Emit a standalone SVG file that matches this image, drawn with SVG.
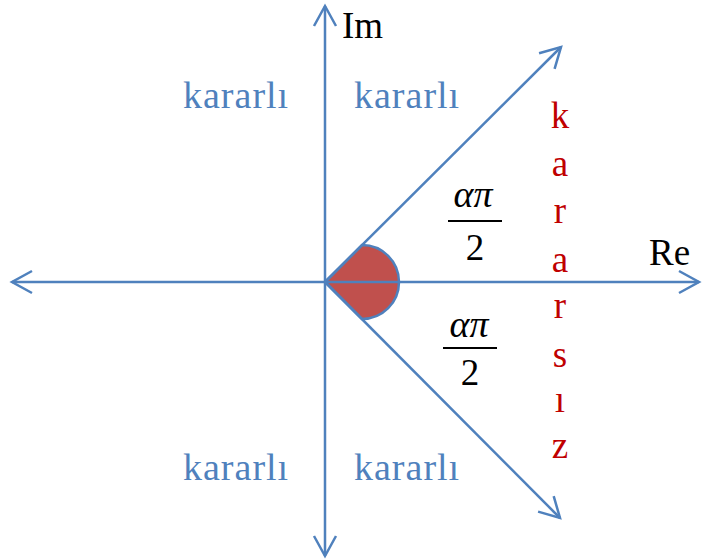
<svg xmlns="http://www.w3.org/2000/svg" width="702" height="560" viewBox="0 0 702 560">
<style>
.ax{stroke:#4F81BD;stroke-width:2.5;fill:none}
.st{font-family:"Liberation Serif","Times New Roman",serif;font-size:38px;letter-spacing:1px;fill:#4F81BD}
.lb{font-family:"Liberation Serif","Times New Roman",serif;font-size:37px;fill:#000}
.rd{font-family:"Liberation Serif","Times New Roman",serif;font-size:37px;fill:#C00000;text-anchor:middle}
.mi{font-family:"Liberation Serif","Times New Roman",serif;font-size:38px;font-style:italic;fill:#000;text-anchor:middle}
.mn{font-family:"Liberation Serif","Times New Roman",serif;font-size:37px;fill:#000;text-anchor:middle}
</style>
<defs>
<marker id="arr" markerUnits="userSpaceOnUse" markerWidth="30" markerHeight="30" viewBox="-25 -15 30 30" refX="0" refY="0" orient="auto">
<path d="M-20,-11 L0,0 L-20,11" fill="none" stroke="#4F81BD" stroke-width="2.5"/>
</marker>
</defs>
<rect width="702" height="560" fill="#fff"/>
<g id="wedge">
<path d="M325,282 L362,245 A37,37 0 0 1 362,319 Z" fill="#C0504D" stroke="#4F81BD" stroke-width="2.5"/>
</g>
<g id="connectors">
<line class="ax" x1="325" y1="282" x2="325" y2="6" marker-end="url(#arr)"/>
<line class="ax" x1="325" y1="282" x2="325" y2="556" marker-end="url(#arr)"/>
<line class="ax" x1="325" y1="282" x2="12" y2="282" marker-end="url(#arr)"/>
<line class="ax" x1="325" y1="282" x2="699" y2="282" marker-end="url(#arr)"/>
<line class="ax" x1="325" y1="282" x2="561" y2="47" marker-end="url(#arr)"/>
<line class="ax" x1="325" y1="282" x2="560" y2="518" marker-end="url(#arr)"/>
</g>
<g id="labels">
<text class="lb" x="342" y="38">Im</text>
<text class="lb" x="649" y="265">Re</text>
<text class="st" x="183" y="108">kararlı</text>
<text class="st" x="354" y="108">kararlı</text>
<text class="st" x="183" y="480">kararlı</text>
<text class="st" x="354" y="480">kararlı</text>
</g>
<g id="unstable">
<text class="rd" x="560" y="128">k</text>
<text class="rd" x="560" y="176">a</text>
<text class="rd" x="560" y="223">r</text>
<text class="rd" x="560" y="272">a</text>
<text class="rd" x="560" y="318">r</text>
<text class="rd" x="560" y="367">s</text>
<text class="rd" x="560" y="412">ı</text>
<text class="rd" x="560" y="458">z</text>
</g>
<g id="frac-upper">
<text class="mi" x="473" y="207">απ</text>
<line x1="448" y1="221" x2="502" y2="221" stroke="#000" stroke-width="2"/>
<text class="mn" x="475" y="260">2</text>
</g>
<g id="frac-lower">
<text class="mi" x="469" y="337">απ</text>
<line x1="443" y1="348" x2="497" y2="348" stroke="#000" stroke-width="2"/>
<text class="mn" x="470" y="385">2</text>
</g>
</svg>
